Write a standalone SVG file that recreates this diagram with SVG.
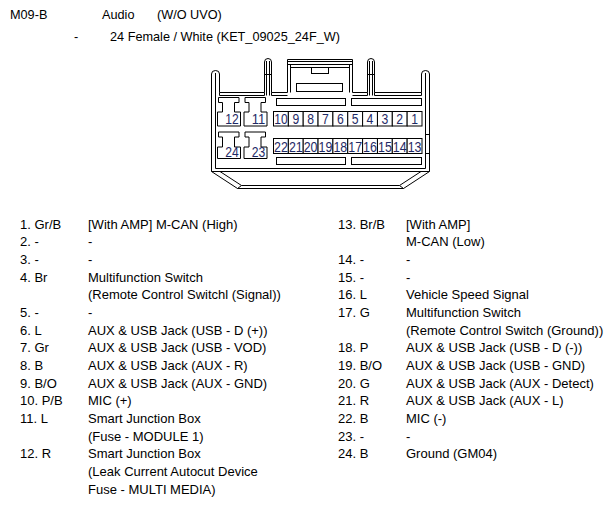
<svg xmlns="http://www.w3.org/2000/svg" width="615" height="507" viewBox="0 0 615 507">
<style>
text{font-family:"Liberation Sans",Arial,sans-serif;font-size:13px;fill:#000}
.hd{font-size:12.7px}
.pn{font-size:14.5px;fill:#1f2a66;text-anchor:middle}
.ln{fill:none;stroke:#000;stroke-width:1}
.cell{fill:#fff;stroke:#000;stroke-width:1}
</style>
<rect width="615" height="507" fill="#fff"/>
<g id="header">
<text class="hd" x="10" y="19">M09-B</text>
<text class="hd" x="102" y="19">Audio</text>
<text class="hd" x="157" y="19">(W/O UVO)</text>
<text class="hd" x="74" y="41">-</text>
<text class="hd" x="110" y="41">24 Female / White (KET_09025_24F_W)</text>
</g>
<g id="housing" class="ln">
<path d="M211.5,171.5 V74 Q211.5,70.5 215.5,70.5 Q219.5,70.5 219.5,74 V92.5 H264.5 V62 Q264.5,58.5 268,58.5 Q271.5,58.5 271.5,62 V92.5 H287.5 V59.5 H352.5 V92.5 H367.5 V62 Q367.5,58.5 371,58.5 Q374.5,58.5 374.5,62 V92.5 H421.5 V74 Q421.5,70.5 425.5,70.5 Q429.5,70.5 429.5,74 V171.5"/>
<path d="M211.5,171.5 H429.5 M215.5,168.5 H425.5 M215.5,168.5 V73 M425.5,168.5 V73"/>
<path d="M219.5,92.5 V95.5 H264.5 V92.5 M271.5,92.5 V95.5 H287.5 M352.5,95.5 H367.5 V92.5 M374.5,92.5 V95.5 H421.5 V92.5"/>
<path d="M266.5,61 V95.5 M269.5,61 V95.5 M369.5,61 V95.5 M372.5,61 V95.5 M264.5,74.5 H271.5 M367.5,74.5 H374.5"/>
<path d="M287.5,61.5 H352.5 M287.5,64.5 H352.5 M290.5,64.5 V92.5 M349.5,64.5 V92.5 M290.5,67.5 H349.5"/>
<rect x="311.5" y="67.5" width="17" height="6"/>
<rect x="296.5" y="83.5" width="46" height="8"/>
<rect x="276.5" y="98.5" width="69" height="7"/>
<rect x="351.5" y="98.5" width="70" height="7"/>
<rect x="276.5" y="157.5" width="69" height="7"/>
<rect x="351.5" y="157.5" width="70" height="7"/>
<rect x="425.5" y="134.5" width="4" height="19"/>
<path d="M211.5,171.5 L237.5,188.5 H403.5 L429.5,171.5 M220,171.5 L241.5,185.5 H399.5 L421,171.5 M237.5,188.5 L241.5,185.5 M403.5,188.5 L399.5,185.5"/>
</g>
<g id="pins-left">
<g id="pin12"><path class="cell" d="M218.5,97.5 H239 V102.5 H234.5 V112 H240.5 V126 H217.5 V112 H222.5 V102.5 H218.5 Z"/><text class="pn" x="232" y="124" textLength="13.5" lengthAdjust="spacingAndGlyphs">12</text></g>
<g id="pin11"><path class="cell" d="M245,97.5 H265.5 V102.5 H261 V112 H267 V126 H244 V112 H249 V102.5 H245 Z"/><text class="pn" x="258.5" y="124" textLength="13.5" lengthAdjust="spacingAndGlyphs">11</text></g>
<g id="pin24"><path class="cell" d="M218.5,132 H239 V137 H234.5 V147 H240.5 V158.5 H217.5 V147 H222.5 V137 H218.5 Z"/><text class="pn" x="232" y="157" textLength="13.5" lengthAdjust="spacingAndGlyphs">24</text></g>
<g id="pin23"><path class="cell" d="M245,132 H265.5 V137 H261 V147 H267 V158.5 H244 V147 H249 V137 H245 Z"/><text class="pn" x="258.5" y="157" textLength="13.5" lengthAdjust="spacingAndGlyphs">23</text></g>
</g>
<g id="pins-row1">
<g id="pin10"><rect class="cell" x="273.5" y="111.5" width="14.85" height="14.5"/><text class="pn" x="281" y="124" textLength="13.3" lengthAdjust="spacingAndGlyphs">10</text></g>
<g id="pin9"><rect class="cell" x="288.35" y="111.5" width="14.85" height="14.5"/><text class="pn" x="295.8" y="124" textLength="6.8" lengthAdjust="spacingAndGlyphs">9</text></g>
<g id="pin8"><rect class="cell" x="303.2" y="111.5" width="14.85" height="14.5"/><text class="pn" x="310.6" y="124" textLength="6.8" lengthAdjust="spacingAndGlyphs">8</text></g>
<g id="pin7"><rect class="cell" x="318.05" y="111.5" width="14.85" height="14.5"/><text class="pn" x="325.5" y="124" textLength="6.8" lengthAdjust="spacingAndGlyphs">7</text></g>
<g id="pin6"><rect class="cell" x="332.9" y="111.5" width="14.85" height="14.5"/><text class="pn" x="340.3" y="124" textLength="6.8" lengthAdjust="spacingAndGlyphs">6</text></g>
<g id="pin5"><rect class="cell" x="347.75" y="111.5" width="14.85" height="14.5"/><text class="pn" x="355.2" y="124" textLength="6.8" lengthAdjust="spacingAndGlyphs">5</text></g>
<g id="pin4"><rect class="cell" x="362.6" y="111.5" width="14.85" height="14.5"/><text class="pn" x="370" y="124" textLength="6.8" lengthAdjust="spacingAndGlyphs">4</text></g>
<g id="pin3"><rect class="cell" x="377.45" y="111.5" width="14.85" height="14.5"/><text class="pn" x="384.9" y="124" textLength="6.8" lengthAdjust="spacingAndGlyphs">3</text></g>
<g id="pin2"><rect class="cell" x="392.3" y="111.5" width="14.85" height="14.5"/><text class="pn" x="399.7" y="124" textLength="6.8" lengthAdjust="spacingAndGlyphs">2</text></g>
<g id="pin1"><rect class="cell" x="407.15" y="111.5" width="14.85" height="14.5"/><text class="pn" x="414.6" y="124" textLength="6.8" lengthAdjust="spacingAndGlyphs">1</text></g>
</g>
<g id="pins-row2">
<g id="pin22"><rect class="cell" x="273.5" y="138.5" width="14.85" height="15"/><text class="pn" x="281" y="151.5" textLength="13.8" lengthAdjust="spacingAndGlyphs">22</text></g>
<g id="pin21"><rect class="cell" x="288.35" y="138.5" width="14.85" height="15"/><text class="pn" x="295.8" y="151.5" textLength="13.8" lengthAdjust="spacingAndGlyphs">21</text></g>
<g id="pin20"><rect class="cell" x="303.2" y="138.5" width="14.85" height="15"/><text class="pn" x="310.6" y="151.5" textLength="13.8" lengthAdjust="spacingAndGlyphs">20</text></g>
<g id="pin19"><rect class="cell" x="318.05" y="138.5" width="14.85" height="15"/><text class="pn" x="325.5" y="151.5" textLength="13.8" lengthAdjust="spacingAndGlyphs">19</text></g>
<g id="pin18"><rect class="cell" x="332.9" y="138.5" width="14.85" height="15"/><text class="pn" x="340.3" y="151.5" textLength="13.8" lengthAdjust="spacingAndGlyphs">18</text></g>
<g id="pin17"><rect class="cell" x="347.75" y="138.5" width="14.85" height="15"/><text class="pn" x="355.2" y="151.5" textLength="13.8" lengthAdjust="spacingAndGlyphs">17</text></g>
<g id="pin16"><rect class="cell" x="362.6" y="138.5" width="14.85" height="15"/><text class="pn" x="370" y="151.5" textLength="13.8" lengthAdjust="spacingAndGlyphs">16</text></g>
<g id="pin15"><rect class="cell" x="377.45" y="138.5" width="14.85" height="15"/><text class="pn" x="384.9" y="151.5" textLength="13.8" lengthAdjust="spacingAndGlyphs">15</text></g>
<g id="pin14"><rect class="cell" x="392.3" y="138.5" width="14.85" height="15"/><text class="pn" x="399.7" y="151.5" textLength="13.8" lengthAdjust="spacingAndGlyphs">14</text></g>
<g id="pin13"><rect class="cell" x="407.15" y="138.5" width="14.85" height="15"/><text class="pn" x="414.6" y="151.5" textLength="13.8" lengthAdjust="spacingAndGlyphs">13</text></g>
</g>
<g id="legend-left">
<text x="20" y="228.5">1. Gr/B</text><text x="88" y="228.5">[With AMP] M-CAN (High)</text>
<text x="20" y="246.2">2. -</text><text x="88" y="246.2">-</text>
<text x="20" y="263.8">3. -</text><text x="88" y="263.8">-</text>
<text x="20" y="281.5">4. Br</text><text x="88" y="281.5">Multifunction Switch</text>
<text x="88" y="299.2">(Remote Control Switchl (Signal))</text>
<text x="20" y="316.9">5. -</text><text x="88" y="316.9">-</text>
<text x="20" y="334.5">6. L</text><text x="88" y="334.5">AUX &amp; USB Jack (USB - D (+))</text>
<text x="20" y="352.2">7. Gr</text><text x="88" y="352.2">AUX &amp; USB Jack (USB - VOD)</text>
<text x="20" y="369.9">8. B</text><text x="88" y="369.9">AUX &amp; USB Jack (AUX - R)</text>
<text x="20" y="387.5">9. B/O</text><text x="88" y="387.5">AUX &amp; USB Jack (AUX - GND)</text>
<text x="20" y="405.2">10. P/B</text><text x="88" y="405.2">MIC (+)</text>
<text x="20" y="422.9">11. L</text><text x="88" y="422.9">Smart Junction Box</text>
<text x="88" y="440.5">(Fuse - MODULE 1)</text>
<text x="20" y="458.2">12. R</text><text x="88" y="458.2">Smart Junction Box</text>
<text x="88" y="475.9">(Leak Current Autocut Device</text>
<text x="88" y="493.5">Fuse - MULTI MEDIA)</text>
</g>
<g id="legend-right">
<text x="338" y="228.5">13. Br/B</text><text x="406" y="228.5">[With AMP]</text>
<text x="406" y="246.2">M-CAN (Low)</text>
<text x="338" y="263.8">14. -</text><text x="406" y="263.8">-</text>
<text x="338" y="281.5">15. -</text><text x="406" y="281.5">-</text>
<text x="338" y="299.2">16. L</text><text x="406" y="299.2">Vehicle Speed Signal</text>
<text x="338" y="316.9">17. G</text><text x="406" y="316.9">Multifunction Switch</text>
<text x="406" y="334.5">(Remote Control Switch (Ground))</text>
<text x="338" y="352.2">18. P</text><text x="406" y="352.2">AUX &amp; USB Jack (USB - D (-))</text>
<text x="338" y="369.9">19. B/O</text><text x="406" y="369.9">AUX &amp; USB Jack (USB - GND)</text>
<text x="338" y="387.5">20. G</text><text x="406" y="387.5">AUX &amp; USB Jack (AUX - Detect)</text>
<text x="338" y="405.2">21. R</text><text x="406" y="405.2">AUX &amp; USB Jack (AUX - L)</text>
<text x="338" y="422.9">22. B</text><text x="406" y="422.9">MIC (-)</text>
<text x="338" y="440.5">23. -</text><text x="406" y="440.5">-</text>
<text x="338" y="458.2">24. B</text><text x="406" y="458.2">Ground (GM04)</text>
</g>
</svg>
